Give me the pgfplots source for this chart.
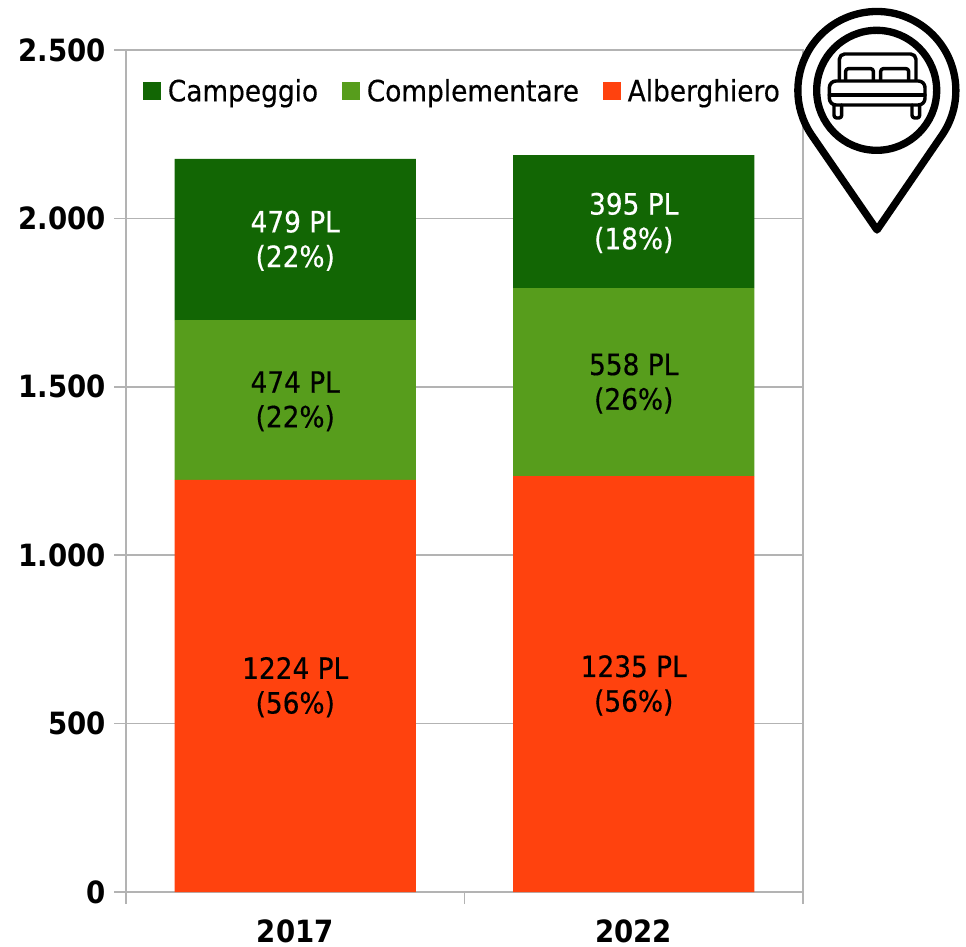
\documentclass[border=0pt]{standalone}
\usepackage{fontspec}
\setmainfont{DejaVu Sans Condensed}
\newfontfamily\medio[FakeBold=0.4]{DejaVu Sans Condensed}
\usepackage{pgfplots}
\pgfplotsset{compat=1.18}
\definecolor{camp}{HTML}{126604}
\definecolor{compl}{HTML}{579D1C}
\definecolor{alb}{HTML}{FF420E}
\definecolor{griglia}{HTML}{B3B3B3}
\pgfplotstableread{
x y pct
0 1224 56
1 1235 56
}\alberghiero
\pgfplotstableread{
x y pct
0 474 22
1 558 26
}\complementare
\pgfplotstableread{
x y pct
0 479 22
1 395 18
}\campeggio
\begin{document}
\begin{tikzpicture}[x=0.75pt,y=0.75pt,font=\medio\fontsize{22}{26}\selectfont]
\path[use as bounding box] (0,0) rectangle (966,946);
\begin{axis}[at={(94.5pt,40.5pt)},anchor=south west,scale only axis,
  width=507.75pt,height=631.5pt,
  ybar stacked,bar width=181pt,
  xmin=-0.5,xmax=1.5,ymin=0,ymax=2500,
  xtick={0,1},xticklabels={2017,2022},
  minor xtick={-0.5,0.5,1.5},
  ytick={0,500,1000,1500,2000,2500},
  ymajorgrids,
  grid style={griglia,line width=1.2pt},
  axis line style={griglia,line width=1.2pt},
  tick style={griglia,line width=1.2pt},
  tick align=outside,tick pos=left,
  major tick length=9pt,minor tick length=9pt,
  x tick style={draw=none},minor x tick style={griglia,line width=1.2pt,draw=griglia},
  tick label style={font=\normalfont\fontsize{23}{26}\selectfont\bfseries},
  /pgf/number format/assume math mode=true,
  yticklabel style={/pgf/number format/1000 sep={.},xshift=-2.5pt},
  xticklabel style={yshift=-8pt},
  legend style={at={(0.025,0.969)},anchor=north west,draw=none,fill=none,
    font=\medio\fontsize{22}{26}\selectfont,inner sep=0pt,
    /tikz/every odd column/.append style={column sep=3pt},
    /tikz/every even column/.append style={column sep=16pt}},
  legend columns=3,reverse legend,
  legend image code/.code={\fill[#1] (0pt,-6.75pt) rectangle (13.5pt,6.75pt);},
  visualization depends on={rawy \as \rawy},
  visualization depends on={\thisrow{pct} \as \pct},
  nodes near coords={\pgfmathprintnumber[1000 sep={},assume math mode=true]{\rawy} PL\\(\pgfmathprintnumber[assume math mode=true]{\pct}\%)},
  every node near coord/.append style={anchor=center,align=center,yshift=-1pt},
]
\addplot[fill=alb,draw=none,nodes near coords style={black}] table[x=x,y=y] {\alberghiero};
\addlegendentry{Alberghiero}
\addplot[fill=compl,draw=none,nodes near coords style={black}] table[x=x,y=y] {\complementare};
\addlegendentry{Complementare}
\addplot[fill=camp,draw=none,nodes near coords style={white}] table[x=x,y=y] {\campeggio};
\addlegendentry{Campeggio}
\end{axis}
% icona segnaposto con letto
\begin{scope}[shift={(780,946)},x=0.25pt,y=-0.25pt,line join=round,line cap=round]
\draw[black,line width=5.5pt,fill=white] (291,690) -- (291+196,271+133) arc[start angle=-34,end angle=214,radius=59.25pt] -- cycle;
\draw[black,line width=5.5pt] (290,271) circle[radius=45pt];
\draw[black,line width=2.6pt,rounded corners=4pt] (178,240) -- (178,162) -- (408,162) -- (408,240);
\draw[black,line width=2.6pt,rounded corners=2pt] (197,240) -- (197,206) -- (280,206) -- (280,240);
\draw[black,line width=2.6pt,rounded corners=2pt] (302,240) -- (302,206) -- (386,206) -- (386,240);
\draw[black,line width=2.6pt,rounded corners=5pt] (148,243) rectangle (435,315);
\draw[black,line width=2.6pt] (148,285) -- (435,285);
\draw[black,line width=2.6pt,rounded corners=2pt] (162,315) -- (162,354) -- (185,354) -- (185,315);
\draw[black,line width=2.6pt,rounded corners=2pt] (396,315) -- (396,354) -- (419,354) -- (419,315);
\end{scope}
\end{tikzpicture}
\end{document}
